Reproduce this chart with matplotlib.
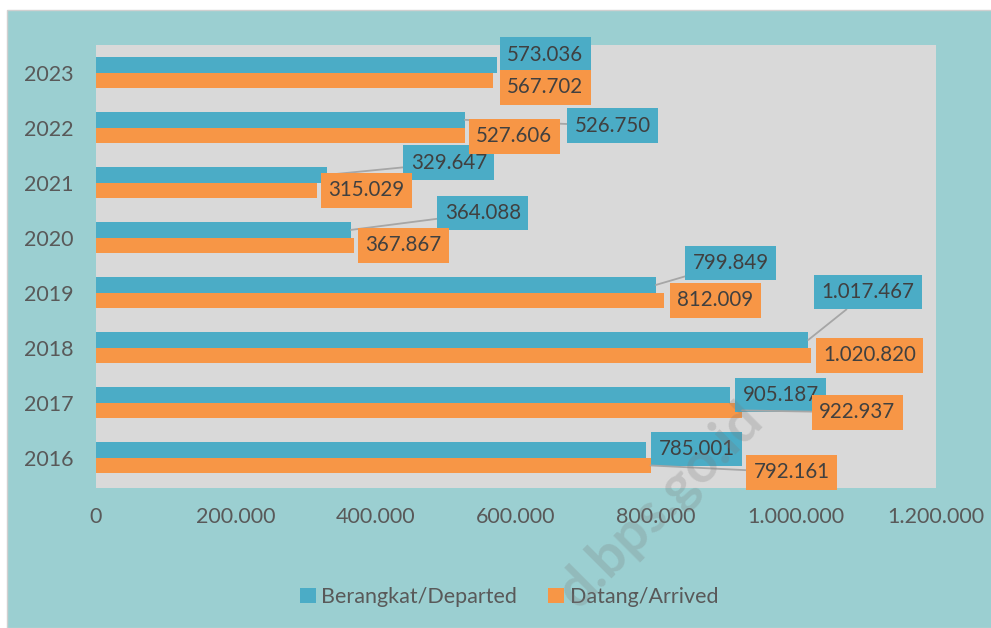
import matplotlib.pyplot as plt
import numpy as np
from matplotlib.patches import Rectangle

plt.rcParams['font.family'] = ['Lato', 'DejaVu Sans']

years = ['2016', '2017', '2018', '2019', '2020', '2021', '2022', '2023']
departed = [785001, 905187, 1017467, 799849, 364088, 329647, 526750, 573036]
arrived = [792161, 922937, 1020820, 812009, 367867, 315029, 527606, 567702]
xticks = [0, 200000, 400000, 600000, 800000, 1000000, 1200000]
series_names = ['Berangkat/Departed', 'Datang/Arrived']

BLUE = '#4BACC6'
ORANGE = '#F79646'
TEAL = '#9BCFD1'
TEXT = '#595959'
LABEL_TEXT = '#404040'
LINE = '#A6A6A6'
FS = 15.5
LABEL_FS = 14.8

# label offsets in pixels from the bar end (dx, dy up)
blue_off = [(51, 1), (51, 0), (60, 48), (75, 22), (132, 17), (122, 12), (148, -6), (48, 10)]
orange_off = [(141, -7), (115, -2), (59, 0), (51, 0), (50, 0), (50, 0), (49, -1), (52, -7)]
blue_leader = [False, False, True, True, True, True, True, False]
orange_leader = [True, True, False, False, False, False, False, False]


def fmt(v):
    return '{:,}'.format(v).replace(',', '.')


fig = plt.figure(figsize=(9.91, 6.28), dpi=100, facecolor='white')
fig.patches.append(Rectangle((7 / 991, 0), 1, 1 - 10 / 628, transform=fig.transFigure,
                             facecolor=TEAL, edgecolor='#D0D0D0', lw=1, zorder=-10))

ax = fig.add_axes([96 / 991, 1 - 488 / 628, (936 - 96) / 991, (488 - 45) / 628])
ax.set_facecolor('#D9D9D9')

y = np.arange(len(years))
h = 0.28
ax.barh(y + h / 2, departed, height=h, color=BLUE, label=series_names[0], zorder=2)
ax.barh(y - h / 2, arrived, height=h, color=ORANGE, label=series_names[1], zorder=2)

ax.set_xlim(0, 1200000)
ax.set_ylim(-0.55, 7.5)
ax.set_yticks(y)
ax.set_yticklabels(years)
ax.set_xticks(xticks)
ax.set_xticklabels([fmt(t) for t in xticks])
ax.tick_params(axis='both', length=0, colors=TEXT, labelsize=FS)
ax.tick_params(axis='x', pad=14)
ax.tick_params(axis='y', pad=16)
for s in ax.spines.values():
    s.set_visible(False)


def put_label(val, ypos, off, color, leader):
    arrow = None
    if leader:
        arrow = dict(arrowstyle='-', color=LINE, lw=1.3, shrinkA=0, shrinkB=0)
    ax.annotate(fmt(val), xy=(val, ypos), xytext=off, textcoords='offset pixels',
                ha='center', va='center', fontsize=LABEL_FS, color=LABEL_TEXT,
                bbox=dict(boxstyle='square,pad=0.36', fc=color, ec='none'),
                arrowprops=arrow, zorder=3, annotation_clip=False)


for i in range(len(years)):
    put_label(departed[i], y[i] + h / 2, blue_off[i], BLUE, blue_leader[i])
    put_label(arrived[i], y[i] - h / 2, orange_off[i], ORANGE, orange_leader[i])

leg = fig.legend(loc='center', bbox_to_anchor=(509 / 991, 1 - 597 / 628), ncol=2,
                 frameon=False, fontsize=FS, handlelength=0.75, handleheight=0.75,
                 handletextpad=0.25, columnspacing=1.45)
for t in leg.get_texts():
    t.set_color(TEXT)

# watermark
fig.text(660 / 991, 1 - 505 / 628, 'd.bps.go.id', rotation=45, ha='center', va='center',
         fontsize=40, fontweight='bold', color='#7A7A7A', alpha=0.25, zorder=10)

fig.savefig('out.png', dpi=100, facecolor=fig.get_facecolor())
